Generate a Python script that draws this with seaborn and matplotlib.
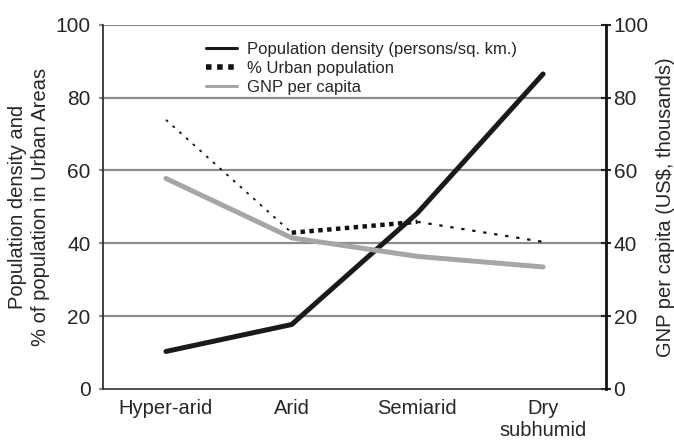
import matplotlib.pyplot as plt
import seaborn as sns
import pandas as pd
from matplotlib.lines import Line2D

zones = ['Hyper-arid', 'Arid', 'Semiarid', 'Dry\nsubhumid']
pop_density = [10.3, 17.7, 48.3, 86.5]
urban_pct = [73.9, 42.9, 45.9, 40.4]
gnp = [57.8, 41.5, 36.4, 33.5]
urban_seg_widths = [1.3, 3.2, 1.6]

sns.set_style('white')
plt.rcParams['font.family'] = ['Liberation Sans', 'DejaVu Sans']

fig, ax = plt.subplots(figsize=(6.74, 4.43), dpi=100)
fig.subplots_adjust(left=0.153, right=0.899, top=0.944, bottom=0.122)
ax2 = ax.twinx()

df = pd.DataFrame({'zone': range(len(zones)), 'pop': pop_density,
                   'urban': urban_pct, 'gnp': gnp})

for y in [20, 40, 60, 80, 100]:
    ax.axhline(y, color='#8c8c8c', lw=1.6, zorder=0)

sns.lineplot(data=df, x='zone', y='pop', ax=ax, color='#1a1a1a', lw=3.6,
             solid_capstyle='round', zorder=5)
# dotted urban line, drawn segment by segment (line weight varies in the original)
for i, w in enumerate(urban_seg_widths):
    seg = df.iloc[i:i + 2]
    dash = (0, (1, 1)) if w > 2 else (0, (1.5, 3.5))
    sns.lineplot(data=seg, x='zone', y='urban', ax=ax, color='#111111', lw=w,
                 linestyle=dash, zorder=4)
sns.lineplot(data=df, x='zone', y='gnp', ax=ax2, color='#a6a6a6', lw=3.6,
             solid_capstyle='round', zorder=3)

for a in (ax, ax2):
    a.set_xlim(-0.5, 3.5)
    a.set_ylim(0, 100)
    a.set_yticks([0, 20, 40, 60, 80, 100])
ax.set_xticks(range(len(zones)))
ax.set_xticklabels(zones, fontsize=14.5)
ax.set_xticks([-0.5, 0.5, 1.5, 2.5], minor=True)
ax.tick_params(axis='x', which='major', length=0, pad=7)
ax.tick_params(axis='x', which='minor', length=5, width=1, direction='out', color='#222222')
ax.tick_params(axis='y', labelsize=15, length=3, width=1.6, color='#8c8c8c', pad=6)
ax2.tick_params(axis='y', labelsize=15, length=7, width=1.5, direction='inout', pad=2)

ax.set_xlabel('')
ax.set_ylabel('Population density and\n% of population in Urban Areas', fontsize=14.5,
              linespacing=1.25, labelpad=4)
ax2.set_ylabel('GNP per capita (US$, thousands)', fontsize=14.5, labelpad=5)

for a in (ax, ax2):
    a.spines['top'].set_visible(False)
ax2.spines['bottom'].set_visible(False)
ax.spines['right'].set_visible(False)
ax2.spines['left'].set_visible(False)
ax.spines['left'].set_color('#222222')
ax.spines['left'].set_linewidth(1.2)
ax.spines['bottom'].set_color('#333333')
ax.spines['bottom'].set_linewidth(1.2)
ax2.spines['right'].set_color('#111111')
ax2.spines['right'].set_linewidth(2)

handles = [Line2D([], [], color='#1a1a1a', lw=2.2),
           Line2D([], [], color='#111111', lw=4, linestyle=(0, (1, 1))),
           Line2D([], [], color='#a6a6a6', lw=2.2)]
labels = ['Population density (persons/sq. km.)', '% Urban population', 'GNP per capita']
ax2.legend(handles, labels, loc='upper left', bbox_to_anchor=(0.174, 0.995), frameon=False,
           fontsize=12, handlelength=1.9, labelspacing=0.25, handletextpad=0.6)

plt.savefig('out.png', dpi=100)
